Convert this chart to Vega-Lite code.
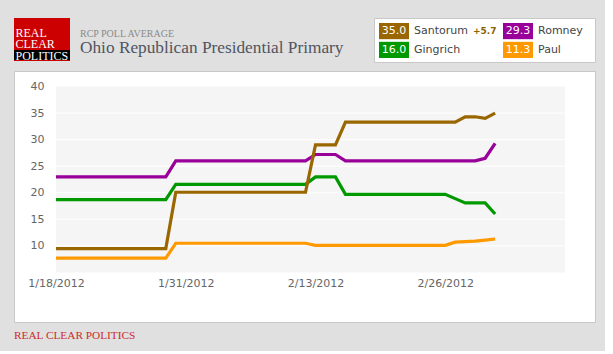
{
  "$schema": "https://vega.github.io/schema/vega-lite/v6.json",
  "background": "#e0e0e0",
  "padding": {"left": 13, "top": 17, "right": 9, "bottom": 9},
  "config": {"view": {"stroke": null}, "font": "DejaVu Sans"},
  "title": {
    "text": "RCP POLL AVERAGE",
    "subtitle": "Ohio Republican Presidential Primary",
    "anchor": "start",
    "frame": "group",
    "orient": "top",
    "offset": -39,
    "dx": 66,
    "font": "Liberation Serif",
    "fontSize": 10,
    "fontWeight": "normal",
    "color": "#8a8a8a",
    "subtitleFont": "Liberation Serif",
    "subtitleFontSize": 17.3,
    "subtitleColor": "#50555f",
    "subtitlePadding": 0
  },
  "datasets": {
    "polls": [
      {"date": "2012/01/18", "candidate": "Paul", "value": 7.7},
      {"date": "2012/01/29", "candidate": "Paul", "value": 7.7},
      {"date": "2012/01/30", "candidate": "Paul", "value": 10.5},
      {"date": "2012/02/12", "candidate": "Paul", "value": 10.5},
      {"date": "2012/02/13", "candidate": "Paul", "value": 10.1},
      {"date": "2012/02/15", "candidate": "Paul", "value": 10.1},
      {"date": "2012/02/16", "candidate": "Paul", "value": 10.1},
      {"date": "2012/02/26", "candidate": "Paul", "value": 10.1},
      {"date": "2012/02/27", "candidate": "Paul", "value": 10.7},
      {"date": "2012/02/28", "candidate": "Paul", "value": 10.8},
      {"date": "2012/02/29", "candidate": "Paul", "value": 10.9},
      {"date": "2012/03/01", "candidate": "Paul", "value": 11.1},
      {"date": "2012/03/02", "candidate": "Paul", "value": 11.3},
      {"date": "2012/01/18", "candidate": "Gingrich", "value": 18.7},
      {"date": "2012/01/29", "candidate": "Gingrich", "value": 18.7},
      {"date": "2012/01/30", "candidate": "Gingrich", "value": 21.6},
      {"date": "2012/02/12", "candidate": "Gingrich", "value": 21.6},
      {"date": "2012/02/13", "candidate": "Gingrich", "value": 23.0},
      {"date": "2012/02/15", "candidate": "Gingrich", "value": 23.0},
      {"date": "2012/02/16", "candidate": "Gingrich", "value": 19.7},
      {"date": "2012/02/26", "candidate": "Gingrich", "value": 19.7},
      {"date": "2012/02/27", "candidate": "Gingrich", "value": 18.9},
      {"date": "2012/02/28", "candidate": "Gingrich", "value": 18.1},
      {"date": "2012/02/29", "candidate": "Gingrich", "value": 18.1},
      {"date": "2012/03/01", "candidate": "Gingrich", "value": 18.1},
      {"date": "2012/03/02", "candidate": "Gingrich", "value": 16.0},
      {"date": "2012/01/18", "candidate": "Romney", "value": 23.0},
      {"date": "2012/01/29", "candidate": "Romney", "value": 23.0},
      {"date": "2012/01/30", "candidate": "Romney", "value": 26.0},
      {"date": "2012/02/12", "candidate": "Romney", "value": 26.0},
      {"date": "2012/02/13", "candidate": "Romney", "value": 27.2},
      {"date": "2012/02/15", "candidate": "Romney", "value": 27.2},
      {"date": "2012/02/16", "candidate": "Romney", "value": 26.0},
      {"date": "2012/02/26", "candidate": "Romney", "value": 26.0},
      {"date": "2012/02/27", "candidate": "Romney", "value": 26.0},
      {"date": "2012/02/28", "candidate": "Romney", "value": 26.0},
      {"date": "2012/02/29", "candidate": "Romney", "value": 26.0},
      {"date": "2012/03/01", "candidate": "Romney", "value": 26.5},
      {"date": "2012/03/02", "candidate": "Romney", "value": 29.3},
      {"date": "2012/01/18", "candidate": "Santorum", "value": 9.5},
      {"date": "2012/01/29", "candidate": "Santorum", "value": 9.5},
      {"date": "2012/01/30", "candidate": "Santorum", "value": 20.1},
      {"date": "2012/02/12", "candidate": "Santorum", "value": 20.1},
      {"date": "2012/02/13", "candidate": "Santorum", "value": 29.0},
      {"date": "2012/02/15", "candidate": "Santorum", "value": 29.0},
      {"date": "2012/02/16", "candidate": "Santorum", "value": 33.3},
      {"date": "2012/02/26", "candidate": "Santorum", "value": 33.3},
      {"date": "2012/02/27", "candidate": "Santorum", "value": 33.3},
      {"date": "2012/02/28", "candidate": "Santorum", "value": 34.3},
      {"date": "2012/02/29", "candidate": "Santorum", "value": 34.3},
      {"date": "2012/03/01", "candidate": "Santorum", "value": 34.0},
      {"date": "2012/03/02", "candidate": "Santorum", "value": 35.0}
    ],
    "legend": [
      {"candidate": "Santorum", "value": 35.0, "change": "+5.7"},
      {"candidate": "Romney", "value": 29.3, "change": null},
      {"candidate": "Gingrich", "value": 16.0, "change": null},
      {"candidate": "Paul", "value": 11.3, "change": null}
    ],
    "logo": [
      {"word": "REAL"},
      {"word": "CLEAR"},
      {"word": "POLITICS"}
    ],
    "grid": [
      {"g": 10}, {"g": 15}, {"g": 20}, {"g": 25}, {"g": 30}, {"g": 35}
    ]
  },
  "spacing": 7,
  "bounds": "full",
  "vconcat": [
    {
      "spacing": 304,
      "bounds": "flush",
      "hconcat": [
        {
          "width": 56,
          "height": 43,
          "view": {"fill": "#cc0000", "stroke": null},
          "data": {"name": "logo"},
          "layer": [
            {
              "transform": [{"filter": "datum.word === 'POLITICS'"}],
              "mark": {"type": "bar", "color": "#000000"},
              "encoding": {
                "y": {"field": "word", "type": "nominal",
                      "scale": {"type": "band", "domain": ["REAL", "CLEAR", "POLITICS"], "range": [12, 42], "paddingInner": 0, "paddingOuter": 0},
                      "axis": null}
              }
            },
            {
              "mark": {"type": "text", "font": "Liberation Serif", "fontSize": 12, "color": "#ffffff", "align": "left", "baseline": "middle", "dx": -26.5},
              "encoding": {
                "y": {"field": "word", "type": "nominal",
                      "scale": {"type": "point", "domain": ["REAL", "CLEAR", "POLITICS"], "range": [14.5, 37.5], "padding": 0},
                      "axis": null},
                "text": {"field": "word"}
              }
            }
          ],
          "resolve": {"scale": {"y": "independent"}}
        },
        {
          "width": 221,
          "height": 44,
          "view": {"fill": "#ffffff", "stroke": "#c8c8c8"},
          "data": {"name": "legend"},
          "transform": [
            {"window": [{"op": "row_number", "as": "rank"}], "sort": [{"field": "value", "order": "descending"}]},
            {"calculate": "(datum.rank - 1) % 2", "as": "col"},
            {"calculate": "floor((datum.rank - 1) / 2)", "as": "row"}
          ],
          "encoding": {
            "x": {"field": "col", "type": "ordinal",
                  "scale": {"type": "band", "domain": [0, 1], "range": [5, 159], "paddingInner": 0.7581, "paddingOuter": 0},
                  "axis": null},
            "y": {"field": "row", "type": "ordinal",
                  "scale": {"type": "band", "domain": [0, 1], "range": [5, 40], "paddingInner": 0.14, "paddingOuter": 0},
                  "axis": null}
          },
          "layer": [
            {
              "mark": {"type": "rect"},
              "encoding": {
                "color": {"field": "candidate", "type": "nominal",
                          "scale": {"domain": ["Santorum", "Romney", "Gingrich", "Paul"], "range": ["#996600", "#990099", "#009900", "#ff9900"]},
                          "legend": null}
              }
            },
            {
              "mark": {"type": "text", "color": "#ffffff", "fontSize": 11, "font": "DejaVu Sans"},
              "encoding": {"text": {"field": "value", "type": "quantitative", "format": ".1f"}}
            },
            {
              "mark": {"type": "text", "align": "left", "dx": 5, "color": "#444444", "fontSize": 11, "font": "DejaVu Sans"},
              "encoding": {
                "x": {"field": "col", "type": "ordinal", "bandPosition": 1},
                "text": {"field": "candidate"}
              }
            },
            {
              "transform": [{"filter": "datum.change != null"}],
              "mark": {"type": "text", "align": "left", "dx": 64, "color": "#8a6400", "fontSize": 9, "fontWeight": "bold", "font": "DejaVu Sans"},
              "encoding": {
                "x": {"field": "col", "type": "ordinal", "bandPosition": 1},
                "text": {"field": "change"}
              }
            }
          ]
        }
      ]
    },
    {
      "width": 581,
      "height": 251,
      "view": {"fill": "#ffffff", "stroke": "#c8c8c8"},
      "title": {
        "text": "REAL CLEAR POLITICS",
        "orient": "bottom",
        "anchor": "start",
        "frame": "group",
        "font": "Liberation Serif",
        "fontSize": 11.3,
        "fontWeight": "normal",
        "color": "#cc2b2b",
        "offset": 8
      },
      "layer": [
        {
          "data": {"values": [{}]},
          "mark": {"type": "rect", "color": "#f5f5f5"},
          "encoding": {
            "x": {"datum": {"year": 2012, "month": 1, "date": 18}, "type": "temporal",
                  "scale": {"domain": [{"year": 2012, "month": 1, "date": 18}, {"year": 2012, "month": 3, "date": 9}], "range": [42, 551], "nice": false},
                  "axis": {
                    "values": [{"year": 2012, "month": 1, "date": 18}, {"year": 2012, "month": 1, "date": 31}, {"year": 2012, "month": 2, "date": 13}, {"year": 2012, "month": 2, "date": 26}],
                    "format": "%-m/%-d/%Y",
                    "grid": false, "domain": false, "ticks": false,
                    "labelFont": "DejaVu Sans", "labelFontSize": 11, "labelColor": "#666666",
                    "labelPadding": 5, "offset": -50, "title": null,
                    "labelFlush": false, "labelOverlap": false
                  }},
            "x2": {"datum": {"year": 2012, "month": 3, "date": 9}},
            "y": {"datum": 5, "type": "quantitative",
                  "scale": {"domain": [5, 40], "range": [201.5, 15.5], "nice": false, "zero": false},
                  "axis": {
                    "values": [10, 15, 20, 25, 30, 35, 40],
                    "grid": false, "domain": false, "ticks": false,
                    "labelFont": "DejaVu Sans", "labelFontSize": 11, "labelColor": "#666666",
                    "labelPadding": 12, "offset": -42, "title": null
                  }},
            "y2": {"datum": 40}
          }
        },
        {
          "data": {"name": "grid"},
          "mark": {"type": "rule", "color": "#ffffff", "strokeWidth": 1},
          "encoding": {
            "y": {"field": "g", "type": "quantitative"},
            "x": {"datum": {"year": 2012, "month": 1, "date": 18}, "type": "temporal"},
            "x2": {"datum": {"year": 2012, "month": 3, "date": 9}}
          }
        },
        {
          "data": {"name": "polls"},
          "mark": {"type": "line", "strokeWidth": 3.2},
          "encoding": {
            "x": {"field": "date", "type": "temporal"},
            "y": {"field": "value", "type": "quantitative"},
            "color": {"field": "candidate", "type": "nominal", "legend": null}
          }
        }
      ]
    }
  ]
}
